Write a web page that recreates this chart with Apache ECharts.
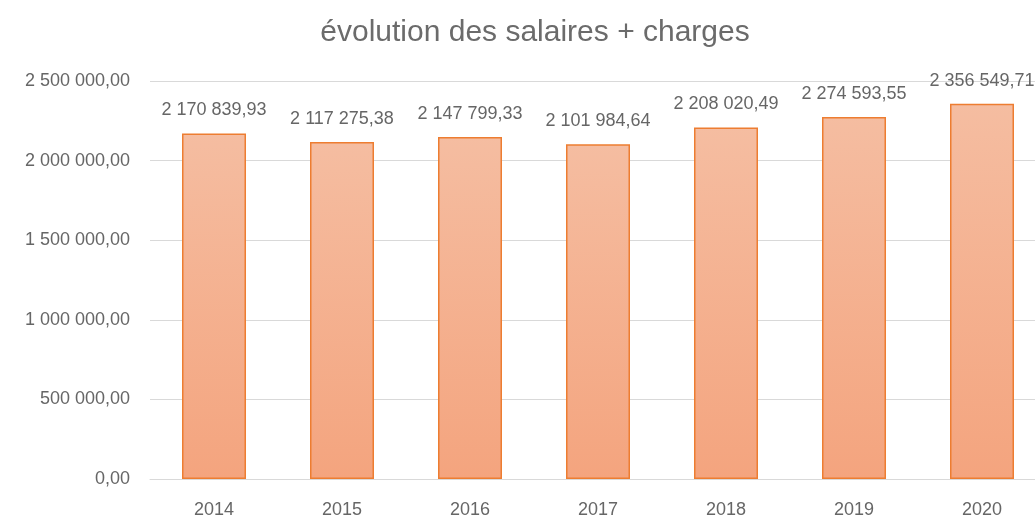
<!DOCTYPE html>
<html>
<head>
<meta charset="utf-8">
<script src="https://cdn.jsdelivr.net/npm/echarts@6/dist/echarts.min.js"></script>
<style>
  html, body { margin: 0; padding: 0; background: #fff; overflow: hidden; }
  #chart { width: 1070px; height: 519px; }
</style>
</head>
<body>
<div id="chart"></div>
<script>
const years = ["2014", "2015", "2016", "2017", "2018", "2019", "2020"];
const salaires = [2170839.93, 2117275.38, 2147799.33, 2101984.64, 2208020.49, 2274593.55, 2356549.71];
const yTicks = [0, 500000, 1000000, 1500000, 2000000, 2500000];

// format français : espace pour les milliers, virgule décimale
function frNum(v) {
  const parts = Number(v).toFixed(2).split(".");
  const ent = parts[0].replace(/\B(?=(\d{3})+(?!\d))/g, " ");
  return ent + "," + parts[1];
}

const chart = echarts.init(document.getElementById("chart"));
chart.setOption({
  animation: false,
  title: {
    text: "évolution des salaires + charges",
    left: "center",
    top: 13,
    textStyle: {
      fontFamily: "Liberation Sans",
      fontSize: 30,
      fontWeight: "normal",
      color: "#6b6b6b",
    },
  },
  grid: {
    left: 150,
    top: 81,
    right: 24,
    height: 400,
    containLabel: false,
  },
  xAxis: {
    type: "category",
    data: years,
    axisLine: { lineStyle: { color: "#d9d9d9", width: 1 } },
    axisTick: { show: false },
    axisLabel: {
      margin: 22,
      fontFamily: "Liberation Sans",
      fontSize: 18,
      color: "#666",
    },
  },
  yAxis: {
    type: "value",
    min: yTicks[0],
    max: yTicks[yTicks.length - 1],
    interval: 500000,
    axisLine: { show: false },
    axisTick: { show: false },
    splitLine: { lineStyle: { color: "#d9d9d9", width: 1 } },
    axisLabel: {
      margin: 20,
      fontFamily: "Liberation Sans",
      fontSize: 18,
      color: "#666",
      formatter: frNum,
    },
  },
  series: [
    {
      type: "bar",
      data: salaires,
      barWidth: "50%",
      itemStyle: {
        color: new echarts.graphic.LinearGradient(0, 0, 0, 1, [
          { offset: 0, color: "#f5bda1" },
          { offset: 1, color: "#f4a47e" },
        ]),
        borderColor: "#ed7d31",
        borderWidth: 1.5,
      },
      label: {
        show: true,
        position: "top",
        distance: 14,
        fontFamily: "Liberation Sans",
        fontSize: 18,
        color: "#666",
        formatter: (p) => frNum(p.value),
      },
    },
  ],
});
</script>
</body>
</html>
